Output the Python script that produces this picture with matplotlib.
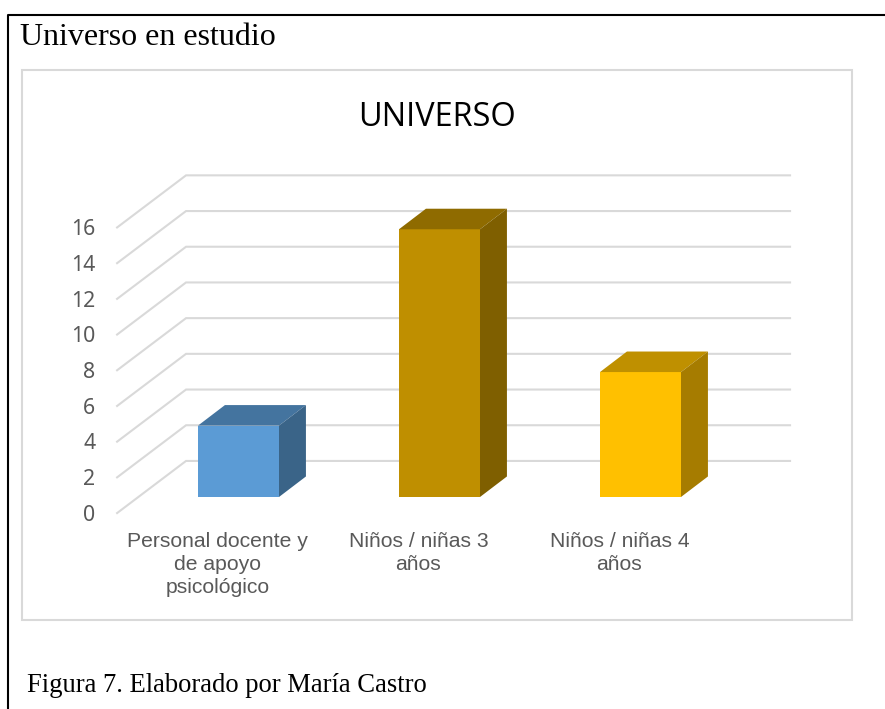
from matplotlib import pyplot as plt
from matplotlib.lines import Line2D
from matplotlib.patches import Polygon, Rectangle

categories = ["Personal docente y\nde apoyo\npsicológico", "Niños / niñas 3\naños", "Niños / niñas 4\naños"]
values = [4, 15, 7]
front_colors = ["#5B9BD5", "#BF8F00", "#FFC000"]
top_colors = ["#44749F", "#8F6B00", "#BF9000"]
side_colors = ["#3A6488", "#7F5F00", "#A67C00"]
ticks = [0, 2, 4, 6, 8, 10, 12, 14, 16]

W, H = 885, 709
PX_X, PX_Y = 201.0, 17.85  # pixels per category / per unit
X0, Y0 = 238.5, 497.0      # where first bar centre and zero sit

fig = plt.figure(figsize=(W / 100, H / 100), dpi=100, facecolor="white")
ax = fig.add_axes([0, 0, 1, 1])
ax.set_xlim(-X0 / PX_X, (W - X0) / PX_X)
ax.set_ylim((Y0 - H) / PX_Y, Y0 / PX_Y)
ax.axis("off")

def px(x, y):
    return x / W, 1 - y / H

# page frame and chart frame
fig.add_artist(Line2D([px(8, 0)[0], px(8, 0)[0], 1], [0, px(0, 15)[1], px(0, 15)[1]], color="black", lw=1.5))
fx, fy = px(22, 620)
fig.add_artist(Rectangle((fx, fy), 830 / W, 550 / H, fill=False, ec="#D9D9D9", lw=1.5))

# walls: gridlines run along the back, then slant to the front edge
back_l, back_r, front_l = -0.261, 2.744, -0.604
back_up, front_down = 2.02, -0.90
for t in ticks:
    ax.plot([front_l, back_l, back_r], [t + front_down, t + back_up, t + back_up], color="#D9D9D9", lw=1.5, zorder=1, solid_joinstyle="miter")
    ax.text(-0.713, t + front_down - 0.13, str(t), ha="right", va="center", fontsize=15.3, color="#595959", family="Noto Sans")

# bars
half, dx, dy = 0.2015, 0.134, 1.15
for i, v in enumerate(values):
    l, r = i - half, i + half
    ax.add_patch(Polygon([(l, 0), (r, 0), (r, v), (l, v)], fc=front_colors[i], ec="none", zorder=3))
    ax.add_patch(Polygon([(l, v), (r, v), (r + dx, v + dy), (l + dx, v + dy)], fc=top_colors[i], ec="none", zorder=3))
    ax.add_patch(Polygon([(r, 0), (r + dx, dy), (r + dx, v + dy), (r, v)], fc=side_colors[i], ec="none", zorder=3))
    ax.text(i - 0.105, -1.98, categories[i], ha="center", va="top", fontsize=15.25, color="#595959", family="Liberation Sans", linespacing=1.27)

fig.text(*px(437, 118), "UNIVERSO", ha="center", va="center", fontsize=23.4, color="black", family="Open Sans")
fig.text(*px(20, 37.5), "Universo en estudio", ha="left", va="center", fontsize=23, color="black", family="Liberation Serif")
fig.text(*px(27, 686), "Figura 7. Elaborado por María Castro", ha="left", va="center", fontsize=19.2, color="black", family="Liberation Serif")

fig.savefig("out.png", dpi=100)
